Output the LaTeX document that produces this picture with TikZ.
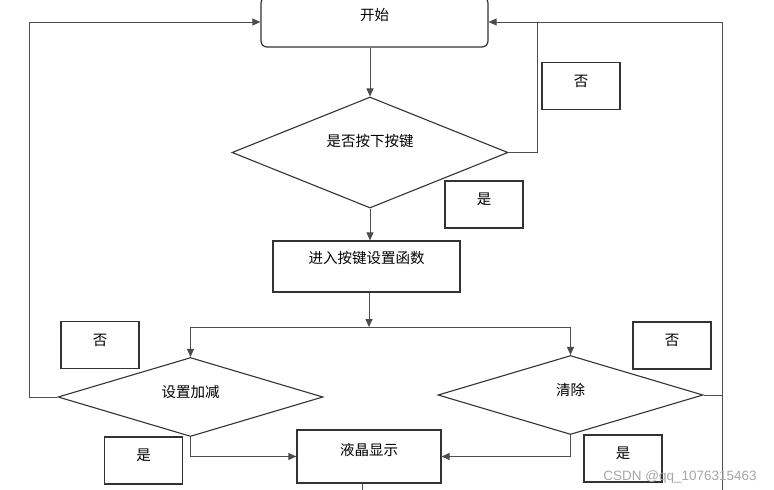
\documentclass[tikz,border=0pt]{standalone}
\usepackage{fontspec}
\setmainfont{Noto Sans CJK SC}
\newfontfamily\wmfont{Liberation Sans}
\usetikzlibrary{arrows.meta,shapes.geometric}

\begin{document}
\begin{tikzpicture}[x=1pt,y=-1pt,font=\fontsize{14.5}{16}\selectfont,
        line/.style={draw=black!70,line width=1pt},
        arr/.style={line,-{Triangle[length=8pt,width=7pt]}},
        procbox/.style={draw=black!80,line width=1.2pt,inner sep=0pt},
        decide/.style={diamond,draw=black!80,line width=1.1pt,inner sep=0pt},
        ansbox/.style={draw=black!80,line width=1.2pt,inner sep=0pt,
            minimum width=78pt,minimum height=47pt,
            label={[yshift=5pt]center:#1}}]
        \useasboundingbox (0,0) rectangle (774,490);
        \clip (0,0) rectangle (774,490);

        \coordinate (kbend) at (537,22);
        \coordinate (lbend) at (29,22);
        \coordinate (rtop)  at (722,22);
        \coordinate (rbot)  at (722,490);
        \coordinate (split) at (369,327);
        \coordinate (lcdout) at (362,490);

        \node[procbox,rounded corners=6pt,minimum width=227pt,minimum height=50pt,
              label={[yshift=7pt]center:开始}] (start) at (374.5,22) {};
        \node[decide,minimum width=276pt,minimum height=111pt,
              label={[yshift=12pt]center:是否按下按键}] (q1) at (370,152.5) {};
        \node[procbox,minimum width=187pt,minimum height=51pt,
              label={[yshift=9pt]center:进入按键设置函数}] (setkey) at (366.5,266.5) {};
        \node[decide,minimum width=265pt,minimum height=79pt,
              label={[yshift=5pt]center:设置加减}] (q2) at (190.5,397) {};
        \node[decide,minimum width=265pt,minimum height=79pt,
              label={[yshift=5pt]center:清除}] (q3) at (570.5,395) {};
        \node[procbox,minimum width=144pt,minimum height=53pt,
              label={[yshift=7pt]center:液晶显示}] (lcd) at (369,456.5) {};

        \node[ansbox=否] (no1)  at (581,86)     {};
        \node[ansbox=是] (yes1) at (484,204.5)  {};
        \node[ansbox=否] (no2)  at (100,345)    {};
        \node[ansbox=是] (yes2) at (143.5,460.5) {};
        \node[ansbox=否] (no3)  at (672,345.5)  {};
        \node[ansbox=是] (yes3) at (623,458.5)  {};

        % main flow
        \draw[arr] (q1.north |- start.south) -- (q1.north);
        \draw[arr] (q1.south) -- (q1.south |- setkey.north);
        \draw[arr] (split |- setkey.south) -- (split);
        \draw[arr] (split) -| (q2.north);
        \draw[arr] (split) -| (q3.north);
        \draw[arr] (q2.south) |- (lcd.west);
        \draw[arr] (q3.south) |- (lcd.east);
        \draw[line] (lcd.south -| lcdout) -- (lcdout);

        % back to start
        \draw[arr] (q1.east) -| (kbend) -- (start.east);
        \draw[line] (rbot) -- (rtop) -- (kbend);
        \draw[line] (q3.east) -- (q3.east -| rtop);
        \draw[arr] (q2.west) -| (lbend) -- (start.west);

        \node[text=black!35,font=\wmfont\fontsize{13.5}{15}\selectfont] (wm) at (680,477) {CSDN @qq\_1076315463};
\end{tikzpicture}
\end{document}
